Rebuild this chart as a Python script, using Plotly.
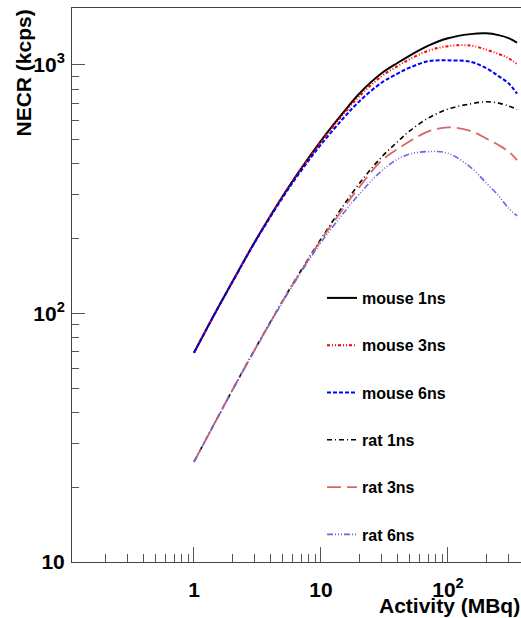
import plotly.graph_objects as go

# Activity (MBq)
activity = [1, 1.5, 2, 3, 5, 7, 10, 15, 20, 30, 40, 50, 70, 100, 150, 200, 250, 300, 350]

# NECR (kcps)
mouse_1ns = [69.5, 102.6, 133.7, 193.5, 297, 384, 495, 644, 766, 925, 1018, 1090, 1195, 1280, 1330, 1340, 1318, 1282, 1230]
mouse_3ns = [69.5, 102.6, 133.7, 193.5, 296, 382, 490, 633, 747, 900, 988, 1055, 1140, 1190, 1197, 1152, 1107, 1064, 1006]
mouse_6ns = [69.5, 102.5, 133.5, 192.5, 293, 376, 478, 610, 713, 848, 922, 975, 1035, 1043, 1030, 970, 902, 843, 766]
rat_1ns = [25.3, 37.3, 49.1, 71.4, 112.7, 149.6, 199.5, 271.5, 333, 426, 490, 543, 611, 664, 697, 711, 702, 684, 661]
rat_3ns = [25.3, 37.3, 49.1, 71.3, 112.3, 148.5, 197, 265, 322, 412, 458, 493, 540, 561, 543, 506, 476, 448, 414]
rat_6ns = [25.3, 37.2, 48.9, 71.0, 111.5, 147, 193, 253, 302, 375, 417, 438, 448, 441, 388, 335, 298, 265, 247]

series_names = ["mouse 1ns", "mouse 3ns", "mouse 6ns", "rat 1ns", "rat 3ns", "rat 6ns"]
series_values = [mouse_1ns, mouse_3ns, mouse_6ns, rat_1ns, rat_3ns, rat_6ns]
series_colors = ["#000000", "#ff0000", "#0000ff", "#000000", "#d96666", "#6868e0"]
series_dash = ["solid", "3px,2px,1px,2px,1px,2px", "4px,2px", "5px,3px,1px,3px",
               "14px,6px", "6px,2px,1px,2px,1px,2px,1px,2px"]
series_width = [2, 2, 2, 1.6, 1.8, 1.6]

x_major = [1, 10, 100]
x_major_text = ["1", "10", "10<sup>2</sup>"]
y_major = [10, 100, 1000]
y_major_text = ["10", "10<sup>2</sup>", "10<sup>3</sup>"]

x_minor = [m * d for d in (0.1, 1, 10, 100) for m in range(2, 10) if m * d < 380]
y_minor = [m * d for d in (10, 100, 1000) for m in range(2, 10) if m * d < 1700]

FONT = "Liberation Sans, Arial, sans-serif"

fig = go.Figure()
for name, vals, col, dash, w in zip(series_names, series_values, series_colors, series_dash, series_width):
    fig.add_trace(go.Scatter(
        x=activity, y=vals, mode="lines", name=name, legendgroup=name,
        line=dict(color=col, dash=dash, width=w, shape="spline"),
    ))

fig.update_layout(
    width=521, height=618,
    margin=dict(l=72, r=0, t=8, b=56, autoexpand=False),
    paper_bgcolor="white", plot_bgcolor="white",
    font=dict(family=FONT, color="black"),
    showlegend=True,
    legend=dict(
        x=(322 - 72) / 449, xanchor="left",
        y=(562 - 281) / 554, yanchor="top",
        bgcolor="rgba(0,0,0,0)", borderwidth=0,
        font=dict(family=FONT, size=16, weight="bold", color="black"),
        tracegroupgap=23.5,
    ),
    xaxis=dict(
        type="log", range=[-0.9606, 2.575], automargin=False,
        showgrid=False, zeroline=False,
        showline=True, linecolor="#444", linewidth=1, mirror=True,
        tickmode="array", tickvals=x_major, ticktext=x_major_text,
        ticks="inside", ticklen=15, tickcolor="#555", tickwidth=1,
        ticklabelstandoff=9,
        tickfont=dict(family=FONT, size=21, weight="bold", color="black"),
        minor=dict(tickmode="array", tickvals=x_minor, ticks="inside", ticklen=8,
                   tickcolor="#555", tickwidth=1, showgrid=False),
    ),
    yaxis=dict(
        type="log", range=[1, 3.229], automargin=False,
        showgrid=False, zeroline=False,
        showline=True, linecolor="#444", linewidth=1, mirror=False,
        tickmode="array", tickvals=y_major, ticktext=y_major_text,
        ticks="inside", ticklen=13, tickcolor="#555", tickwidth=1,
        ticklabelstandoff=2,
        tickfont=dict(family=FONT, size=21, weight="bold", color="black"),
        minor=dict(tickmode="array", tickvals=y_minor, ticks="inside", ticklen=7,
                   tickcolor="#555", tickwidth=1, showgrid=False),
    ),
    annotations=[
        dict(text="NECR (kcps)", textangle=-90, showarrow=False,
             xref="paper", yref="paper",
             x=(23 - 72) / 449, y=(562 - 73.5) / 554,
             xanchor="center", yanchor="middle",
             font=dict(family=FONT, size=21, weight="bold", color="black")),
        dict(text="Activity (MBq)", showarrow=False,
             xref="paper", yref="paper",
             x=(449.5 - 72) / 449, y=(562 - 605) / 554,
             xanchor="center", yanchor="middle",
             font=dict(family=FONT, size=21, weight="bold", color="black")),
    ],
)

fig.write_html("out.html", config={"displayModeBar": False},
               post_script="document.body.style.margin='0';")
